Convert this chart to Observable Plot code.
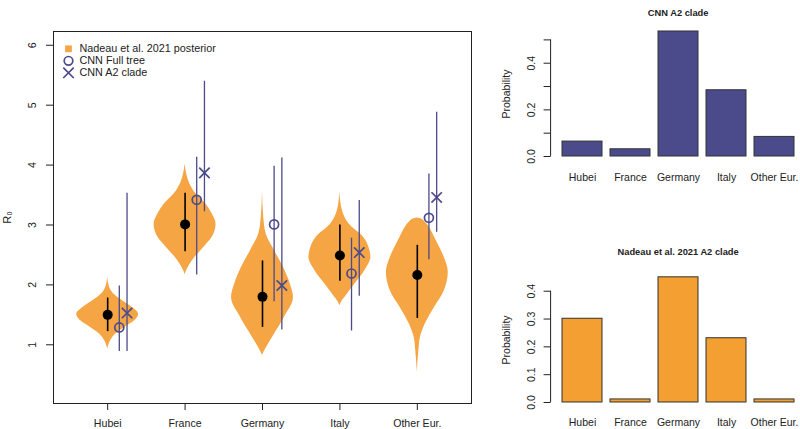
<!DOCTYPE html>
<html><head><meta charset="utf-8">
<script src="https://cdn.jsdelivr.net/npm/d3@7"></script>
<script src="https://cdn.jsdelivr.net/npm/@observablehq/plot@0.6"></script>
<style>
html,body{margin:0;padding:0;background:#fff;}
#wrap{position:relative;width:800px;height:429px;overflow:hidden;}
#wrap svg{position:absolute;}
</style></head><body><div id="wrap"></div>
<script>
// ---------- data ----------
const categories = ["Hubei", "France", "Germany", "Italy", "Other Eur."];
const yTicksLeft = [1, 2, 3, 4, 5, 6];

// Nadeau et al. 2021 posterior: median and interval
const nadeauMedian = [1.50, 3.01, 1.80, 2.49, 2.165];
const nadeauLow    = [1.22, 2.555, 1.29, 2.06, 1.44];
const nadeauHigh   = [1.78, 3.53, 2.40, 3.00, 2.66];
// CNN Full tree
const cnnFullValue = [1.29, 3.42, 3.01, 2.19, 3.12];
const cnnFullLow   = [0.89, 2.165, 1.72, 1.23, 2.42];
const cnnFullHigh  = [1.98, 4.13, 3.98, 2.78, 3.85];
// CNN A2 clade
const cnnA2Value = [1.53, 3.87, 1.99, 2.54, 3.46];
const cnnA2Low   = [0.89, 3.22, 1.245, 1.81, 2.88];
const cnnA2High  = [3.53, 5.40, 4.12, 3.41, 4.88];

// violin profiles (R0 level, relative density)
const violinHubeiR   = [0.93, 1.0, 1.07, 1.18, 1.29, 1.40, 1.51, 1.62, 1.735, 1.82, 1.9, 2.0, 2.125];
const violinHubeiD   = [0, 0.04, 0.10, 0.26, 0.55, 0.87, 1, 0.81, 0.48, 0.26, 0.12, 0.04, 0];
const violinFranceR  = [2.17, 2.24, 2.32, 2.46, 2.63, 2.79, 3.01, 3.19, 3.35, 3.52, 3.69, 3.85, 4.02];
const violinFranceD  = [0, 0.05, 0.13, 0.32, 0.61, 0.87, 1, 0.87, 0.67, 0.35, 0.15, 0.05, 0];
const violinGermanyR = [0.82, 0.88, 0.955, 1.18, 1.46, 1.79, 2.01, 2.29, 2.57, 2.85, 3.13, 3.575];
const violinGermanyD = [0, 0.05, 0.13, 0.39, 0.71, 1, 0.90, 0.68, 0.39, 0.12, 0.04, 0];
const violinItalyR   = [1.65, 1.72, 1.79, 2.01, 2.24, 2.46, 2.57, 2.79, 3.02, 3.24, 3.55];
const violinItalyD   = [0, 0.06, 0.16, 0.48, 0.81, 1, 0.97, 0.77, 0.29, 0.08, 0];
const violinOtherR   = [0.54, 0.90, 1.12, 1.35, 1.62, 1.90, 2.21, 2.46, 2.74, 2.905, 3.045, 3.10, 3.115];
const violinOtherD   = [0, 0.05, 0.10, 0.26, 0.55, 0.87, 1, 0.87, 0.61, 0.45, 0.26, 0.13, 0];

// origin probabilities of the A2 clade
const cnnA2Prob    = [0.064, 0.031, 0.536, 0.284, 0.084];
const nadeauA2Prob = [0.301, 0.011, 0.450, 0.231, 0.011];
const probTicksTop    = [0, 0.1, 0.2, 0.3, 0.4, 0.5];
const probTicksBottom = [0, 0.1, 0.2, 0.3, 0.4];

// ---------- styling ----------
const FONT = '"Liberation Sans", Arial, Helvetica, sans-serif';
const ORANGE = "#F5A543";
const BAR_ORANGE = "#F39F31";
const BLUE = "#4B4A8B";
const INK = "#222";
const wrap = document.getElementById("wrap");

// ---------- left panel ----------
const rows = categories.map((c, i) => ({
  cat: c, x: i + 1,
  nMed: nadeauMedian[i], nLo: nadeauLow[i], nHi: nadeauHigh[i],
  fV: cnnFullValue[i], fLo: cnnFullLow[i], fHi: cnnFullHigh[i],
  aV: cnnA2Value[i], aLo: cnnA2Low[i], aHi: cnnA2High[i]
}));
const violinR = [violinHubeiR, violinFranceR, violinGermanyR, violinItalyR, violinOtherR];
const violinD = [violinHubeiD, violinFranceD, violinGermanyD, violinItalyD, violinOtherD];
const violinRows = categories.flatMap((c, i) =>
  violinR[i].map((r, j) => ({cat: c, x: i + 1, r, w: violinD[i][j]})));
const HALF = 0.4; // max violin half-width in x units
const OFF_FULL = 0.15, OFF_A2 = 0.25;

const left = Plot.plot({
  width: 480, height: 429,
  marginLeft: 53, marginRight: 9, marginTop: 31, marginBottom: 26,
  style: {fontFamily: FONT, fontSize: "10.6px", color: INK, background: "transparent", left: "0px", top: "0px"},
  x: {type: "linear", domain: [0.3, 5.7]},
  y: {type: "linear", domain: [0.02, 6.23]},
  marks: [
    Plot.areaX(violinRows, {y: "r", x1: d => d.x - d.w * HALF, x2: d => d.x + d.w * HALF, z: "cat", fill: ORANGE, curve: "monotone-y"}),
    Plot.ruleX(rows, {x: "x", y1: "nLo", y2: "nHi", stroke: "black", strokeWidth: 1.6}),
    Plot.dot(rows, {x: "x", y: "nMed", r: 5, fill: "black"}),
    Plot.ruleX(rows, {x: d => d.x + OFF_FULL, y1: "fLo", y2: "fHi", stroke: BLUE, strokeWidth: 1.3}),
    Plot.ruleX(rows, {x: d => d.x + OFF_A2, y1: "aLo", y2: "aHi", stroke: BLUE, strokeWidth: 1.3}),
    Plot.dot(rows, {x: d => d.x + OFF_FULL, y: "fV", r: 4.5, stroke: BLUE, strokeWidth: 1.7, fill: "none"}),
    Plot.dot(rows, {x: d => d.x + OFF_A2, y: "aV", symbol: "times", r: 4.8, stroke: BLUE, strokeWidth: 1.7}),
    Plot.frame({stroke: INK, strokeWidth: 1}),
    Plot.axisY({ticks: yTicksLeft, tickSize: 7, tickFormat: () => "", label: null, stroke: INK}),
    Plot.text(yTicksLeft, {y: d => d, text: d => String(d), frameAnchor: "left", dx: -21, rotate: -90, textAnchor: "middle", lineAnchor: "middle", fill: INK}),
    Plot.axisX({ticks: [1, 2, 3, 4, 5], tickFormat: i => categories[i - 1], tickSize: 7, tickPadding: 9, label: null, stroke: INK, fill: INK}),
    Plot.text(["R\u2080"], {frameAnchor: "left", dx: -46, rotate: -90, textAnchor: "middle", lineAnchor: "middle", fill: INK, fontSize: 11}),
    // legend
    Plot.dot(["sq"], {frameAnchor: "top-left", dx: 15, dy: 17.3, symbol: "square", r: 3.8, fill: ORANGE}),
    Plot.dot(["ci"], {frameAnchor: "top-left", dx: 15, dy: 29.3, r: 4.3, stroke: BLUE, strokeWidth: 1.7, fill: "none"}),
    Plot.dot(["x"], {frameAnchor: "top-left", dx: 15, dy: 41.3, symbol: "times", r: 4.8, stroke: BLUE, strokeWidth: 1.7}),
    Plot.text(["Nadeau et al. 2021 posterior"], {frameAnchor: "top-left", dx: 26, dy: 17.3, textAnchor: "start", lineAnchor: "middle", fontSize: 10.8, fill: INK}),
    Plot.text(["CNN Full tree"], {frameAnchor: "top-left", dx: 26, dy: 29.3, textAnchor: "start", lineAnchor: "middle", fontSize: 10.8, fill: INK}),
    Plot.text(["CNN A2 clade"], {frameAnchor: "top-left", dx: 26, dy: 41.3, textAnchor: "start", lineAnchor: "middle", fontSize: 10.8, fill: INK})
  ]
});
wrap.appendChild(left);

// ---------- right panels ----------
function axisLine(y1, y2) {
  return (index, scales, values, dimensions) => {
    const x = dimensions.marginLeft;
    const l = document.createElementNS("http://www.w3.org/2000/svg", "line");
    l.setAttribute("x1", x); l.setAttribute("x2", x);
    l.setAttribute("y1", scales.y(y1)); l.setAttribute("y2", scales.y(y2));
    l.setAttribute("stroke", INK);
    return l;
  };
}

function barChart({values, fill, title, yDomain, ticks, labelFilter, top, height, marginTop, marginBottom, titleDy, xPad}) {
  const data = categories.map((c, i) => ({cat: c, p: values[i]}));
  return Plot.plot({
    width: 330, height,
    marginLeft: 80.6, marginRight: 0, marginTop, marginBottom,
    style: {fontFamily: FONT, fontSize: "10.5px", color: INK, background: "transparent", left: "470px", top: top + "px"},
    x: {type: "band", domain: categories, paddingInner: 1 / 6, paddingOuter: 1 / 12, insetLeft: 5.3, insetRight: 0.6},
    y: {type: "linear", domain: yDomain},
    marks: [
      Plot.barY(data, {x: "cat", y: "p", fill, stroke: "#333", strokeWidth: 1}),
      axisLine(ticks[0], ticks[ticks.length - 1]),
      Plot.axisY({ticks, tickSize: 7, tickFormat: () => "", label: null, stroke: INK}),
      Plot.text(ticks.filter(labelFilter), {y: d => d, text: d => d.toFixed(1), frameAnchor: "left", dx: -19.6, rotate: -90, textAnchor: "middle", lineAnchor: "middle", fill: INK}),
      Plot.axisX({tickSize: 0, tickPadding: xPad, label: null, fill: INK}),
      Plot.text(["Probability"], {frameAnchor: "left", dx: -44, rotate: -90, textAnchor: "middle", lineAnchor: "middle", fill: INK}),
      Plot.text([title], {frameAnchor: "top", dx: 2.3, dy: titleDy, fontWeight: "bold", fontSize: 9.3, lineAnchor: "middle", fill: INK})
    ]
  });
}

wrap.appendChild(barChart({
  values: cnnA2Prob, fill: BLUE, title: "CNN A2 clade",
  yDomain: [-0.0214, 0.5574], ticks: probTicksTop,
  labelFilter: d => Math.round(d * 10) % 2 === 0,
  top: 0, height: 214, marginTop: 26, marginBottom: 53, titleDy: -13.3, xPad: 11.7
}));
wrap.appendChild(barChart({
  values: nadeauA2Prob, fill: BAR_ORANGE, title: "Nadeau et al. 2021 A2 clade",
  yDomain: [-0.018, 0.468], ticks: probTicksBottom,
  labelFilter: () => true,
  top: 214, height: 215, marginTop: 57.8, marginBottom: 22, titleDy: -20.1, xPad: 11.3
}));
</script></body></html>
